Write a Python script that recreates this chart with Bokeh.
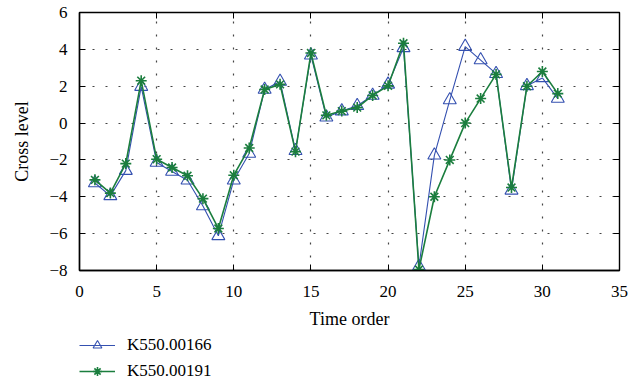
from bokeh.plotting import figure
from bokeh.layouts import column
from bokeh.models import Range1d, FixedTicker, LinearAxis, Legend, LegendItem
from bokeh.embed import file_html
from bokeh.resources import INLINE

# ---- data ----
time_order = list(range(1, 32))
k_00166 = [-3.25, -3.95, -2.58, 1.98, -2.14, -2.63, -3.1, -4.5, -6.12, -3.1,
           -1.65, 1.82, 2.26, -1.5, 3.68, 0.32, 0.65, 0.94, 1.5, 2.1,
           4.08, -7.78, -1.75, 1.25, 4.15, 3.42, 2.68, -3.65, 2.02, 2.45, 1.33]
k_00191 = [-3.08, -3.8, -2.2, 2.3, -1.96, -2.41, -2.86, -4.1, -5.72, -2.83,
           -1.35, 1.82, 2.1, -1.55, 3.8, 0.42, 0.65, 0.84, 1.5, 2.02,
           4.33, -7.95, -4.0, -2.0, 0.0, 1.33, 2.64, -3.5, 2.0, 2.8, 1.6]
series_names = ["K550.00166", "K550.00191"]
x_ticks = [0, 5, 10, 15, 20, 25, 30, 35]
y_ticks = [-8, -6, -4, -2, 0, 2, 4, 6]
y_tick_labels = {-8: "\u22128", -6: "\u22126", -4: "\u22124", -2: "\u22122",
                 0: "0", 2: "2", 4: "4", 6: "6"}

FONT = "Liberation Serif"
BLUE = "#3450b0"
GREEN = "#1b7e3e"

p = figure(width=629, height=332, output_backend="svg",
           toolbar_location=None, x_range=Range1d(0, 35), y_range=Range1d(-8, 6),
           min_border_left=79, min_border_right=10, min_border_top=12,
           min_border_bottom=62)
p.background_fill_color = "white"
p.border_fill_color = "white"
p.outline_line_color = "black"
p.outline_line_width = 1.4

for ax in (p.xaxis[0], p.yaxis[0]):
    ax.major_tick_in = 6
    ax.major_tick_out = 0
    ax.minor_tick_line_color = None
    ax.axis_line_color = "black"
    ax.axis_line_width = 1.4
    ax.major_tick_line_color = "black"
    ax.major_label_text_font = FONT
    ax.major_label_text_font_size = "17px"
    ax.major_label_text_color = "black"
    ax.axis_label_text_font = FONT
    ax.axis_label_text_font_size = "18px"
    ax.axis_label_text_font_style = "normal"
    ax.axis_label_text_color = "black"

p.xaxis[0].ticker = FixedTicker(ticks=x_ticks)
p.yaxis[0].ticker = FixedTicker(ticks=y_ticks)
p.yaxis[0].major_label_overrides = y_tick_labels
p.xaxis[0].axis_label = "Time order"
p.yaxis[0].axis_label = "Cross level"
p.xaxis[0].major_label_standoff = 15
p.xaxis[0].axis_label_standoff = 9
p.yaxis[0].major_label_standoff = 12
p.yaxis[0].axis_label_standoff = 14

# mirrored inward ticks on top and right (no labels)
blank_x = {t: "" for t in x_ticks}
blank_y = {t: "" for t in y_ticks}
top = LinearAxis(ticker=FixedTicker(ticks=x_ticks), axis_line_color=None,
                 major_tick_in=6, major_tick_out=0, minor_tick_line_color=None,
                 major_label_overrides=blank_x, major_label_text_font_size="1px",
                 major_label_standoff=0)
right = LinearAxis(ticker=FixedTicker(ticks=y_ticks), axis_line_color=None,
                   major_tick_in=6, major_tick_out=0, minor_tick_line_color=None,
                   major_label_overrides=blank_y, major_label_text_font_size="1px",
                   major_label_standoff=0)
p.add_layout(top, "above")
p.add_layout(right, "right")

for g in (p.xgrid[0], p.ygrid[0]):
    g.grid_line_color = "#444444"
    g.grid_line_dash = "2 11"
    g.grid_line_width = 1.2


def draw(fig, tri_size=13, star_size=11):
    l1 = fig.line(time_order, k_00166, line_color=BLUE, line_width=1.1)
    m1 = fig.scatter(time_order, k_00166, marker="triangle", size=tri_size,
                     line_color=BLUE, fill_color=None, line_width=1.1)
    l2 = fig.line(time_order, k_00191, line_color=GREEN, line_width=1.6)
    m2 = fig.scatter(time_order, k_00191, marker="asterisk", size=star_size,
                     line_color=GREEN, line_width=1.6)
    return (l1, m1), (l2, m2)


draw(p)

# legend strip below the chart (same series; data lies outside its view)
q = figure(width=629, height=50, output_backend="svg", toolbar_location=None,
           x_range=Range1d(100, 101), y_range=Range1d(100, 101),
           min_border_left=0, min_border_right=0, min_border_top=0,
           min_border_bottom=0)
q.axis.visible = False
q.grid.visible = False
q.outline_line_color = None
q.background_fill_color = "white"
q.border_fill_color = "white"
r1, r2 = draw(q, tri_size=10, star_size=9)

legend = Legend(items=[LegendItem(label=series_names[0], renderers=list(r1)),
                       LegendItem(label=series_names[1], renderers=list(r2))],
                location=(0, 0), orientation="vertical")
legend.border_line_color = None
legend.background_fill_alpha = 0
legend.margin = 0
legend.padding = 0
legend.spacing = 4
legend.label_height = 22
legend.glyph_height = 22
legend.glyph_width = 36
legend.label_standoff = 12
legend.label_text_font = FONT
legend.label_text_font_size = "17px"
legend.label_text_color = "black"
q.add_layout(legend, "center")

open("out.html", "w").write(file_html(column(p, q, spacing=0), INLINE))
